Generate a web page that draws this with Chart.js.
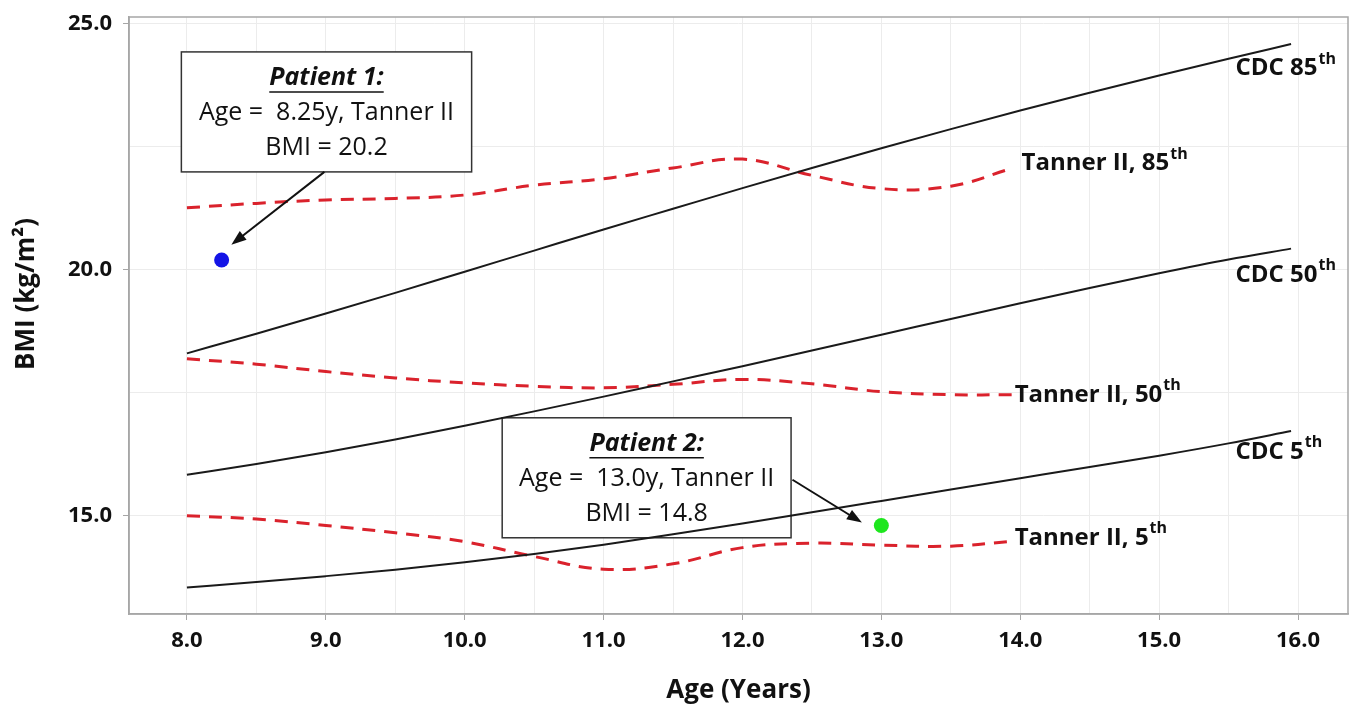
<!DOCTYPE html>
<html>
<head>
<meta charset="utf-8">
<script src="https://cdn.jsdelivr.net/npm/chart.js@4"></script>
<style>
  html, body { margin: 0; padding: 0; background: #fff; }
  #wrap { width: 1358px; height: 706px; }
</style>
</head>
<body>
<div id="wrap"><canvas id="bmiChart" width="1358" height="706"></canvas></div>
<script>
// CDC reference curves (x = age in years)
const cdcAges = [8.0, 8.5, 9.0, 9.5, 10.0, 10.5, 11.0, 11.5, 12.0, 12.5, 13.0, 13.5, 14.0, 14.5, 15.0, 15.5, 15.95];
const cdc85 = [18.3, 18.7, 19.11, 19.53, 19.96, 20.39, 20.82, 21.24, 21.66, 22.07, 22.47, 22.86, 23.24, 23.6, 23.95, 24.29, 24.59];
const cdc50 = [15.83, 16.05, 16.29, 16.55, 16.83, 17.12, 17.42, 17.73, 18.04, 18.36, 18.68, 19.0, 19.32, 19.63, 19.93, 20.21, 20.43];
const cdc5 = [13.54, 13.65, 13.77, 13.9, 14.05, 14.22, 14.41, 14.62, 14.84, 15.07, 15.3, 15.53, 15.76, 15.99, 16.22, 16.47, 16.72];

// Tanner II curves
const tannerAges = [8.0, 8.5, 9.0, 9.5, 10.0, 10.5, 11.0, 11.5, 12.0, 12.5, 13.0, 13.5, 13.95];
const tanner85 = [21.26, 21.35, 21.42, 21.45, 21.52, 21.72, 21.85, 22.07, 22.25, 21.92, 21.65, 21.7, 22.07];
const tanner50 = [18.19, 18.08, 17.93, 17.8, 17.7, 17.63, 17.6, 17.67, 17.77, 17.68, 17.52, 17.46, 17.46];
const tanner5 = [15.0, 14.93, 14.8, 14.65, 14.47, 14.17, 13.91, 14.02, 14.35, 14.44, 14.4, 14.38, 14.48];

// patients
const patient1 = { age: 8.25, bmi: 20.2 };
const patient2 = { age: 13.0, bmi: 14.8 };

// axis ticks / grid
const xGrid = [8, 8.5, 9, 9.5, 10, 10.5, 11, 11.5, 12, 12.5, 13, 13.5, 14, 14.5, 15, 15.5, 16];
const yGrid = [15, 17.5, 20, 22.5, 25];

const FONT = "'Open Sans', 'Noto Sans', sans-serif";

const toPoints = (xs, ys) => xs.map((x, i) => ({ x: x, y: ys[i] }));

// annotation layout, in data units
const notes = [
    { x0: 7.96, x1: 10.05, y0: 24.43, y1: 21.99, title: "Patient 1:", lines: ["Age =  8.25y, Tanner II", "BMI = 20.2"] },
    { x0: 10.27, x1: 12.35, y0: 16.99, y1: 14.55, title: "Patient 2:", lines: ["Age =  13.0y, Tanner II", "BMI = 14.8"] },
];
const arrows = [
    { from: [8.99, 21.99], to: [8.32, 20.51] },
    { from: [12.36, 15.73], to: [12.86, 14.86] },
];
const curveLabels = [
    { text: "CDC 85", x: 15.55, y: 24.1 },
    { text: "CDC 50", x: 15.55, y: 19.9 },
    { text: "CDC 5", x: 15.55, y: 16.3 },
    { text: "Tanner II, 85", x: 14.01, y: 22.17 },
    { text: "Tanner II, 50", x: 13.96, y: 17.46 },
    { text: "Tanner II, 5", x: 13.96, y: 14.55 },
];

const solid = (data) => ({
    data: data,
    borderColor: "#1a1a1a",
    borderWidth: 2,
    pointRadius: 0,
    cubicInterpolationMode: "monotone",
    fill: false,
});
const dashed = (data) => ({
    data: data,
    borderColor: "rgb(218, 34, 44)",
    borderWidth: 3,
    borderDash: [13, 9],
    pointRadius: 0,
    tension: 0.4,
    fill: false,
});

const notesPlugin = {
    id: "notes",
    beforeDatasetsDraw(chart) {
        const { ctx, scales: { x, y } } = chart;
        ctx.save();
        notes.forEach((n) => {
            const left = x.getPixelForValue(n.x0), right = x.getPixelForValue(n.x1);
            const top = y.getPixelForValue(n.y0), bottom = y.getPixelForValue(n.y1);
            ctx.fillStyle = "#fff";
            ctx.fillRect(left, top, right - left, bottom - top);
            ctx.strokeStyle = "#333";
            ctx.lineWidth = 1.5;
            ctx.strokeRect(left, top, right - left, bottom - top);

            const cx = (left + right) / 2;
            ctx.fillStyle = "#111";
            ctx.textAlign = "center";
            ctx.textBaseline = "middle";
            ctx.font = "italic bold 25px " + FONT;
            ctx.fillText(n.title, cx, top + 26);
            const w = ctx.measureText(n.title).width;
            ctx.beginPath();
            ctx.moveTo(cx - w / 2, top + 40);
            ctx.lineTo(cx + w / 2, top + 40);
            ctx.strokeStyle = "#111";
            ctx.lineWidth = 1.5;
            ctx.stroke();

            ctx.font = "25px " + FONT;
            n.lines.forEach((t, i) => ctx.fillText(t, cx, top + 61 + i * 35));
        });
        ctx.restore();
    },
    afterDatasetsDraw(chart) {
        const { ctx, chartArea, scales: { x, y } } = chart;
        ctx.save();

        // frame
        ctx.strokeStyle = "#a6a6a6";
        ctx.lineWidth = 1.5;
        ctx.strokeRect(chartArea.left, chartArea.top, chartArea.right - chartArea.left, chartArea.bottom - chartArea.top);

        // arrows
        arrows.forEach((a) => {
            const x1 = x.getPixelForValue(a.from[0]), y1 = y.getPixelForValue(a.from[1]);
            const x2 = x.getPixelForValue(a.to[0]), y2 = y.getPixelForValue(a.to[1]);
            const ang = Math.atan2(y2 - y1, x2 - x1);
            const len = 15, half = 5.5;
            ctx.strokeStyle = "#111";
            ctx.fillStyle = "#111";
            ctx.lineWidth = 2;
            ctx.beginPath();
            ctx.moveTo(x1, y1);
            ctx.lineTo(x2 - Math.cos(ang) * len * 0.8, y2 - Math.sin(ang) * len * 0.8);
            ctx.stroke();
            ctx.beginPath();
            ctx.moveTo(x2, y2);
            ctx.lineTo(x2 - Math.cos(ang) * len + Math.sin(ang) * half, y2 - Math.sin(ang) * len - Math.cos(ang) * half);
            ctx.lineTo(x2 - Math.cos(ang) * len - Math.sin(ang) * half, y2 - Math.sin(ang) * len + Math.cos(ang) * half);
            ctx.closePath();
            ctx.fill();
        });

        // curve labels with superscript "th"
        ctx.fillStyle = "#111";
        ctx.textAlign = "left";
        ctx.textBaseline = "middle";
        curveLabels.forEach((l) => {
            const px = x.getPixelForValue(l.x), py = y.getPixelForValue(l.y);
            ctx.font = "bold 24px " + FONT;
            ctx.fillText(l.text, px, py);
            const w = ctx.measureText(l.text).width;
            ctx.font = "bold 16px " + FONT;
            ctx.fillText("th", px + w + 1, py - 9);
        });

        // y axis title
        ctx.translate(27, 294);
        ctx.rotate(-Math.PI / 2);
        ctx.textAlign = "center";
        ctx.font = "bold 26px " + FONT;
        ctx.fillText("BMI (kg/m²)", 0, 0);
        ctx.restore();
    },
};

new Chart(document.getElementById("bmiChart"), {
    type: "line",
    data: {
        datasets: [
            solid(toPoints(cdcAges, cdc85)),
            solid(toPoints(cdcAges, cdc50)),
            solid(toPoints(cdcAges, cdc5)),
            dashed(toPoints(tannerAges, tanner85)),
            dashed(toPoints(tannerAges, tanner50)),
            dashed(toPoints(tannerAges, tanner5)),
            {
                data: [{ x: patient1.age, y: patient1.bmi }],
                showLine: false,
                pointRadius: 7.5,
                pointBackgroundColor: "rgb(20, 20, 230)",
                pointBorderWidth: 0,
            },
            {
                data: [{ x: patient2.age, y: patient2.bmi }],
                showLine: false,
                pointRadius: 7.5,
                pointBackgroundColor: "rgb(30, 230, 30)",
                pointBorderWidth: 0,
            },
        ],
    },
    options: {
        responsive: false,
        animation: false,
        layout: { padding: { top: 17, right: 10, left: 0, bottom: 0 } },
        plugins: {
            legend: { display: false },
            tooltip: { enabled: false },
        },
        scales: {
            x: {
                type: "linear",
                min: 7.583,
                max: 16.36,
                afterBuildTicks: (scale) => { scale.ticks = xGrid.map((v) => ({ value: v })); },
                afterFit: (scale) => { scale.height = 92; },
                ticks: {
                    autoSkip: false,
                    maxRotation: 0,
                    padding: 8,
                    color: "#111",
                    font: { family: FONT, size: 22, weight: "bold" },
                    callback: (v) => (Number.isInteger(v) ? v.toFixed(1) : ""),
                },
                grid: {
                    color: "#ececec",
                    tickLength: 6,
                    tickColor: (c) => (Number.isInteger(c.tick.value) ? "#a6a6a6" : "rgba(0,0,0,0)"),
                },
                border: { color: "#a6a6a6", width: 1.5 },
                title: {
                    display: true,
                    text: "Age (Years)",
                    color: "#111",
                    padding: 0,
                    font: { family: FONT, size: 26, weight: "bold" },
                },
            },
            y: {
                type: "linear",
                min: 13.0,
                max: 25.14,
                afterBuildTicks: (scale) => { scale.ticks = yGrid.map((v) => ({ value: v })); },
                afterFit: (scale) => {
                    scale.width = 129;
                    scale.paddingTop = 0;
                    scale.paddingBottom = 0;
                },
                ticks: {
                    autoSkip: false,
                    padding: 11,
                    color: "#111",
                    font: { family: FONT, size: 22, weight: "bold" },
                    callback: (v) => (v % 5 === 0 ? v.toFixed(1) : ""),
                },
                grid: {
                    color: "#ececec",
                    tickLength: 6,
                    tickColor: (c) => (c.tick.value % 5 === 0 ? "#a6a6a6" : "rgba(0,0,0,0)"),
                },
                border: { color: "#a6a6a6", width: 1.5 },
            },
        },
    },
    plugins: [notesPlugin],
});
</script>
</body>
</html>
